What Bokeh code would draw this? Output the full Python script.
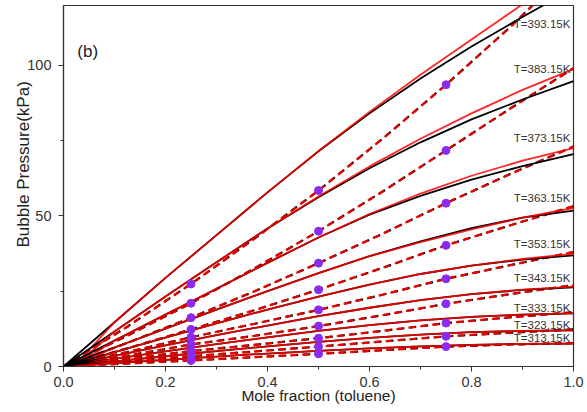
from bokeh.plotting import figure
from bokeh.models import Range1d, FixedTicker, Label, Title
from bokeh.embed import file_html
from bokeh.resources import INLINE
from bokeh.core.properties import value

FONT = "Liberation Sans"

# ---- data ----
T_LABELS = ["T=393.15K", "T=383.15K", "T=373.15K", "T=363.15K", "T=353.15K",
            "T=343.15K", "T=333.15K", "T=323.15K", "T=313.15K"]
LABEL_X = [0.883] * 9
LABEL_Y = [113.5, 98.8, 75.8, 56.0, 40.7, 29.4, 19.4, 13.9, 9.5]

X_SOLID = [0.0, 0.1, 0.2, 0.3, 0.4, 0.5, 0.6, 0.7, 0.8, 0.9, 1.0]
X_SOLID_RED = [0.02, 0.1, 0.2, 0.3, 0.4, 0.5, 0.6, 0.7, 0.8, 0.9, 1.0]

SOLID_RED = [
    [0, 14.7, 29.4, 43.6, 57.8, 71.5, 84.5, 96.8, 108.5, 120.2, 131.0],
    [0, 11.6, 23.2, 34.6, 45.8, 56.4, 66.4, 75.6, 84.0, 91.8, 98.7],
    [0, 8.6, 17.2, 25.8, 34.4, 42.8, 50.6, 57.4, 63.3, 68.3, 72.5],
    [0, 6.3, 12.6, 18.9, 25.0, 31.0, 36.6, 41.3, 45.5, 49.4, 52.6],
    [0, 4.8, 9.6, 14.3, 18.9, 23.2, 27.2, 30.7, 33.5, 35.7, 37.4],
    [0, 3.5, 7.0, 10.4, 13.6, 16.7, 19.5, 22.0, 24.0, 25.5, 26.5],
    [0, 2.5, 5.0, 7.4, 9.7, 11.8, 13.7, 15.3, 16.5, 17.2, 17.6],
    [0, 1.7, 3.4, 5.1, 6.7, 8.2, 9.5, 10.6, 11.4, 11.8, 12.0],
    [0, 1.1, 2.2, 3.3, 4.3, 5.2, 6.0, 6.7, 7.2, 7.5, 7.6],
]
SOLID_BLACK = [
    [0, 14.7, 29.4, 43.6, 57.8, 71.4, 84.0, 95.6, 106.2, 116.0, 125.5],
    [0, 11.6, 23.2, 34.6, 45.8, 56.2, 65.8, 74.4, 82.0, 88.6, 94.7],
    [0, 8.6, 17.2, 25.8, 34.4, 42.8, 50.4, 56.6, 62.0, 66.5, 70.5],
    [0, 6.3, 12.6, 18.9, 25.0, 31.0, 36.6, 41.5, 45.9, 49.4, 51.7],
    [0, 4.8, 9.6, 14.3, 18.9, 23.2, 27.2, 30.7, 33.5, 35.5, 36.9],
    [0, 3.5, 7.0, 10.4, 13.6, 16.7, 19.5, 22.0, 24.0, 25.4, 26.3],
    [0, 2.5, 5.0, 7.4, 9.7, 11.8, 13.7, 15.3, 16.5, 17.2, 17.6],
    [0, 1.7, 3.4, 5.1, 6.7, 8.2, 9.5, 10.6, 11.4, 11.8, 12.0],
    [0, 1.1, 2.2, 3.3, 4.3, 5.2, 6.0, 6.7, 7.2, 7.5, 7.6],
]

X_DASH = [0.0, 0.125, 0.25, 0.375, 0.5, 0.625, 0.75, 0.875, 1.0]
DASHED = [
    [0, 13.2, 27.4, 42.5, 58.4, 75.5, 93.5, 112.5, 133.0],
    [0, 10.2, 21.0, 32.6, 44.9, 58.0, 71.7, 85.5, 99.0],
    [0, 7.8, 16.2, 25.0, 34.3, 44.0, 54.2, 63.8, 73.0],
    [0, 6.0, 12.3, 18.7, 25.5, 32.7, 40.2, 46.8, 53.2],
    [0, 4.8, 9.7, 14.2, 18.8, 23.8, 29.1, 33.6, 38.0],
    [0, 3.6, 7.3, 10.2, 13.4, 17.0, 20.8, 24.0, 27.0],
    [0, 2.6, 5.1, 7.2, 9.4, 11.8, 14.4, 16.3, 18.0],
    [0, 1.7, 3.4, 5.0, 6.6, 8.3, 10.0, 11.2, 12.3],
    [0, 1.0, 2.0, 3.1, 4.2, 5.4, 6.6, 7.3, 7.8],
]

X_PTS = [0.25, 0.5, 0.75]
PTS = [
    [27.4, 58.4, 93.5],
    [21.0, 44.9, 71.7],
    [16.2, 34.3, 54.2],
    [12.3, 25.5, 40.2],
    [9.7, 18.8, 29.1],
    [7.3, 13.4, 20.8],
    [5.1, 9.4, 14.4],
    [3.4, 6.6, 10.0],
    [2.0, 4.2, 6.6],
]

X_TICKS = [0.0, 0.2, 0.4, 0.6, 0.8, 1.0]
X_TICK_LABELS = ["0.0", "0.2", "0.4", "0.6", "0.8", "1.0"]
X_MINOR = [0.1, 0.3, 0.5, 0.7, 0.9]
Y_TICKS = [0, 50, 100]
Y_TICK_LABELS = ["0", "50", "100"]
Y_MINOR = [25, 75]

X_TITLE = "Mole fraction (toluene)"
Y_TITLE = "Bubble Pressure(kPa)"
PANEL_TAG = "(b)"

# ---- figure ----
p = figure(width=587, height=412, output_backend="svg", toolbar_location=None,
           x_range=Range1d(0, 1), y_range=Range1d(0, 119.8),
           min_border_left=63, min_border_right=14, min_border_top=5,
           min_border_bottom=46)
p.grid.visible = False
p.background_fill_color = "white"
p.border_fill_color = "white"
p.outline_line_color = "#333333"
p.outline_line_width = 1.2

p.xaxis.ticker = FixedTicker(ticks=X_TICKS, minor_ticks=X_MINOR)
p.xaxis.major_label_overrides = dict(zip(X_TICKS, X_TICK_LABELS))
p.yaxis.ticker = FixedTicker(ticks=Y_TICKS, minor_ticks=Y_MINOR)
p.yaxis.major_label_overrides = dict(zip(Y_TICKS, Y_TICK_LABELS))

for ax in (p.xaxis, p.yaxis):
    ax.major_tick_in = 0
    ax.major_tick_out = 5
    ax.minor_tick_in = 0
    ax.minor_tick_out = 3
    ax.axis_line_color = "#333333"
    ax.axis_line_width = 1.2
    ax.major_tick_line_color = "#333333"
    ax.minor_tick_line_color = "#333333"
    ax.major_label_text_font = FONT
    ax.major_label_text_font_size = "14.5px"
    ax.major_label_text_color = "#333333"
    ax.axis_label_text_font = FONT
    ax.axis_label_text_font_size = "15.5px"
    ax.axis_label_text_font_style = "normal"
    ax.axis_label_text_color = "#222222"

p.xaxis.axis_label = X_TITLE
p.xaxis.major_label_standoff = 5
p.xaxis.axis_label_standoff = -3
p.yaxis.major_label_standoff = 7

# y title: in the reference it sits above the frame centre, so it is a side
# title anchored from the bottom of the frame
p.add_layout(Title(text=Y_TITLE, align="left", offset=119, standoff=-16,
                   text_font=FONT, text_font_size="17px",
                   text_font_style="normal", text_color="#222222"), "left")

for i in range(9):
    p.line(X_DASH, DASHED[i], line_color="black", line_width=2.2, line_dash="7 5")
    p.line(X_DASH, DASHED[i], line_color="red", line_alpha=0.9, line_width=2.2,
           line_dash="7 5", line_dash_offset=1)

for i in range(9):
    p.line(X_SOLID, SOLID_BLACK[i], line_color="black", line_width=1.8)
    p.line(X_SOLID_RED, SOLID_RED[i], line_color="red", line_alpha=0.85, line_width=1.8)

for i in range(9):
    p.scatter(X_PTS, PTS[i], size=8, fill_color="#8B2BF0", line_color="#8B2BF0")

p.text(x=LABEL_X, y=LABEL_Y, text=T_LABELS, text_font=value(FONT),
       text_font_size="11.5px", text_align="left", text_baseline="middle",
       text_color="#333333")

p.add_layout(Label(x=0.027, y=104.4, text=PANEL_TAG, text_font=FONT,
                   text_font_size="17px", text_baseline="middle", text_color="#222222"))

open("out.html", "w").write(file_html(p, INLINE))
